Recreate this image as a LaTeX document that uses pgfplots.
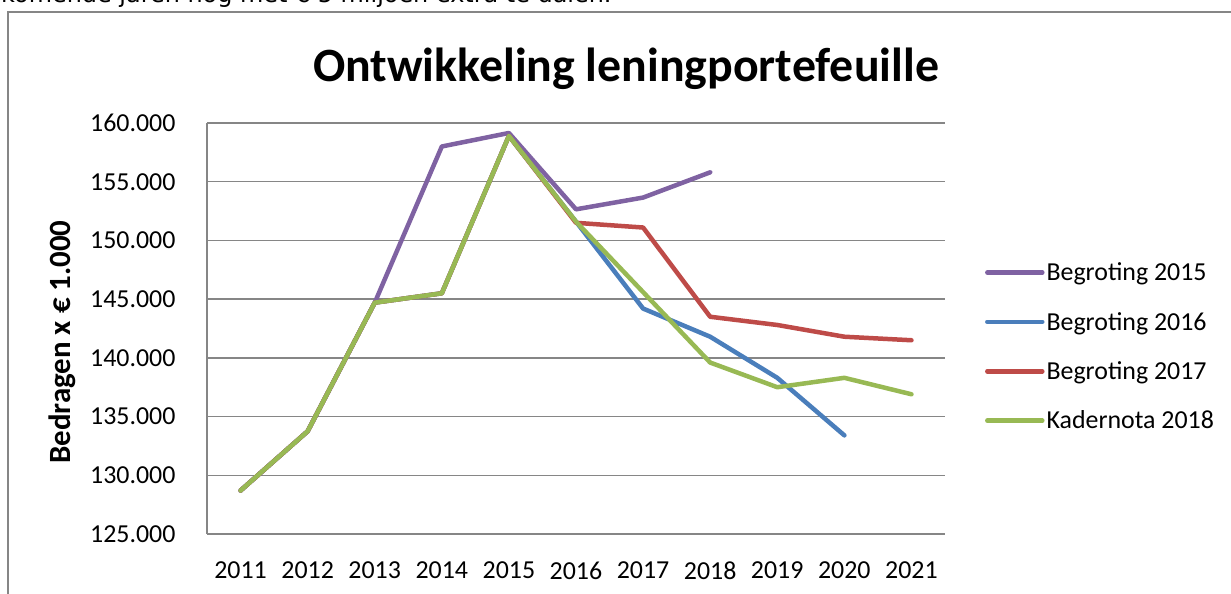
\documentclass[border=0pt]{standalone}
\usepackage{fontspec}
\setmainfont{Carlito}
\newfontfamily\dejavu{DejaVu Sans}
\usepackage{pgfplots}
\pgfplotsset{compat=1.18}
\definecolor{cpurple}{HTML}{7F62A2}
\definecolor{cblue}{HTML}{4A7EBB}
\definecolor{cred}{HTML}{BE4B48}
\definecolor{cgreen}{HTML}{98B954}
\definecolor{gridgray}{HTML}{868686}
\begin{document}
\begin{tikzpicture}
\useasboundingbox (0,0) rectangle (1231bp,-594bp);
\node[anchor=base west, inner sep=0, font=\dejavu\fontsize{24}{28}\selectfont] at (1bp,-2bp) {komende jaren nog met € 5 miljoen extra te dalen.};
\draw[gridgray, line width=1.5bp] (8bp,-600bp) -- (8bp,-12bp) -- (1240bp,-12bp);
\node[anchor=base, inner sep=0, font=\bfseries\fontsize{48}{56}\selectfont] at (626bp,-81bp) {Ontwikkeling leningportefeuille};
\node[anchor=base, rotate=90, inner sep=0, font=\bfseries\fontsize{31}{36}\selectfont] at (70bp,-342bp) {Bedragen x € 1.000};
\begin{axis}[
  at={(207bp,-534bp)}, anchor=south west,
  width=738bp, height=411bp, scale only axis,
  xmin=2010.5, xmax=2021.5, ymin=125000, ymax=160000,
  xtick={2011,2012,...,2021},
  ytick={125000,130000,...,160000},
  axis x line*=bottom, axis y line*=left,
  axis line style={draw=gridgray, line width=1.5bp, -},
  ymajorgrids, grid style={gridgray, line width=1.5bp},
  major tick length=0pt,
  /pgf/number format/assume math mode=true,
  tick label style={font=\fontsize{26}{30}\selectfont},
  yticklabel style={xshift=-28bp, /pgf/number format/.cd, fixed, 1000 sep={.}},
  xticklabel style={yshift=-24bp, /pgf/number format/1000 sep={}},
  scaled y ticks=false,
  every axis plot/.append style={line width=4.5bp, line join=round, line cap=round},
  legend style={at={(1.054,0.456)}, anchor=west, draw=none, fill=none,
    font=\fontsize{26}{30}\selectfont, row sep=26bp, inner sep=0pt,
    cells={anchor=west}},
  legend image code/.code={\draw[#1, line width=4.5bp, line cap=round] (0bp,0bp) -- (55bp,0bp);},
]
\addplot[cpurple] coordinates {(2011,128700) (2012,133750) (2013,144700) (2014,158000) (2015,159150) (2016,152650) (2017,153650) (2018,155800)};
\addlegendentry{Begroting 2015}
\addplot[cblue] coordinates {(2011,128700) (2012,133750) (2013,144700) (2014,145500) (2015,158900) (2016,151600) (2017,144200) (2018,141800) (2019,138300) (2020,133400)};
\addlegendentry{Begroting 2016}
\addplot[cred] coordinates {(2011,128700) (2012,133750) (2013,144700) (2014,145500) (2015,158900) (2016,151500) (2017,151100) (2018,143500) (2019,142800) (2020,141800) (2021,141500)};
\addlegendentry{Begroting 2017}
\addplot[cgreen] coordinates {(2011,128700) (2012,133750) (2013,144700) (2014,145500) (2015,158900) (2016,151600) (2017,145600) (2018,139600) (2019,137500) (2020,138300) (2021,136900)};
\addlegendentry{Kadernota 2018}
\end{axis}
\end{tikzpicture}
\end{document}
